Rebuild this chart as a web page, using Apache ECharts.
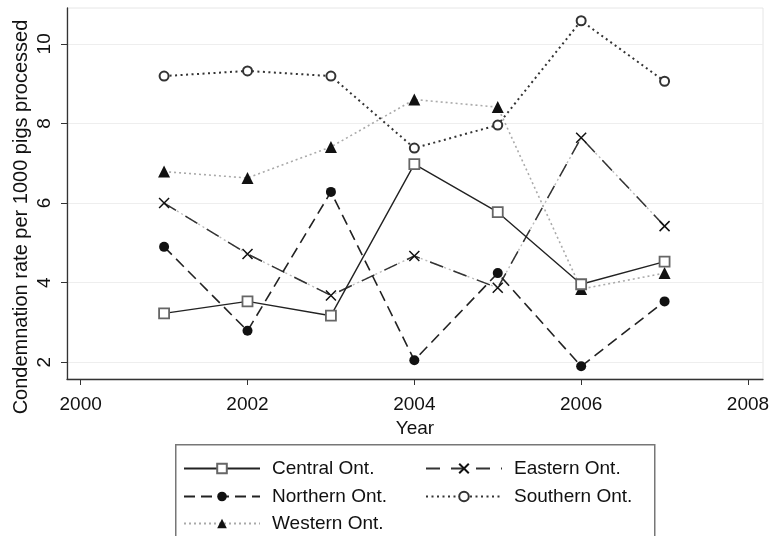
<!DOCTYPE html>
<html>
<head>
<meta charset="utf-8">
<script src="https://cdn.jsdelivr.net/npm/echarts@6/dist/echarts.min.js"></script>
<style>html,body{margin:0;padding:0;background:#fff}#c{width:772px;height:536px}</style>
</head>
<body>
<div id="c"></div>
<script>
const years = [2001, 2002, 2003, 2004, 2005, 2006, 2007];
const central  = [3.23, 3.53, 3.17, 6.98, 5.77, 3.96, 4.53];
const northern = [4.90, 2.79, 6.28, 2.05, 4.24, 1.90, 3.53];
const eastern  = [6.00, 4.72, 3.68, 4.67, 3.87, 7.64, 5.42];
const southern = [9.19, 9.32, 9.19, 7.38, 7.96, 10.58, 9.06];
const western  = [6.79, 6.63, 7.41, 8.60, 8.41, 3.84, 4.24];
const xTicks = [2000, 2002, 2004, 2006, 2008];
const yTicks = [2, 4, 6, 8, 10];
const yTitle = 'Condemnation rate per 1000 pigs processed';

const pts = arr => years.map((y, i) => [y, arr[i]]);
const FONT = 'Liberation Sans';
const FS = 19;
const xPath = 'path://M0,0L10,10M10,0L0,10';

const chart = echarts.init(document.getElementById('c'), null, {renderer: 'canvas'});
const legendBase = {
  orient: 'horizontal', itemWidth: 76, itemHeight: 12, itemGap: 10,
  textStyle: {fontFamily: FONT, fontSize: FS, color: '#111', padding: [0, 0, 0, 7]},
  selectedMode: false, padding: 0
};
chart.setOption({
  animation: false,
  backgroundColor: '#fff',
  textStyle: {fontFamily: FONT},
  grid: {left: 67, right: 9, top: 8, bottom: 157, show: true, borderColor: '#e6e6e6', borderWidth: 1, outerBoundsMode: 'none', containLabel: false},
  xAxis: {
    type: 'value', min: 1999.836, max: 2008.18,
    name: 'Year', nameLocation: 'middle', nameGap: 38,
    nameTextStyle: {fontFamily: FONT, fontSize: FS, color: '#111'},
    axisLine: {show: true, lineStyle: {color: '#333', width: 1.3}},
    axisTick: {show: true, length: 6, customValues: xTicks, lineStyle: {color: '#333'}},
    axisLabel: {customValues: xTicks, fontFamily: FONT, fontSize: FS, color: '#111', margin: 16, formatter: v => String(v)},
    splitLine: {show: false}
  },
  yAxis: {
    type: 'value', min: 1.58, max: 10.9, interval: 2,
    axisLine: {show: true, lineStyle: {color: '#333', width: 1.3}},
    axisTick: {show: true, length: 6, customValues: yTicks, lineStyle: {color: '#333'}},
    axisLabel: {customValues: yTicks, rotate: 90, fontFamily: FONT, fontSize: FS, color: '#111', margin: 13},
    splitLine: {show: true, lineStyle: {color: '#eeeeee', width: 1}}
  },
  legend: [
    Object.assign({}, legendBase, {data: ['Central Ont.'], left: 183, top: 459}),
    Object.assign({}, legendBase, {data: ['Northern Ont.'], left: 183, top: 487}),
    Object.assign({}, legendBase, {data: ['Western Ont.'], left: 183, top: 514}),
    Object.assign({}, legendBase, {data: ['Eastern Ont.'], left: 425, top: 459}),
    Object.assign({}, legendBase, {data: ['Southern Ont.'], left: 425, top: 487})
  ],
  graphic: [
    {
      type: 'rect', left: 175, top: 444, z: -1,
      shape: {width: 479, height: 100},
      style: {fill: '#fff', stroke: '#777', lineWidth: 1.5}
    },
    {
      type: 'text', x: 21, y: 217, rotation: Math.PI / 2,
      style: {text: yTitle, font: '20px "Liberation Sans"', fill: '#111', align: 'center', verticalAlign: 'middle'}
    }
  ],
  series: [
    {
      name: 'Central Ont.', type: 'line', data: pts(central), z: 5,
      symbol: 'rect', symbolSize: 10,
      itemStyle: {color: '#fff', borderColor: '#666', borderWidth: 1.8},
      lineStyle: {color: '#222', width: 1.4, type: 'solid'}
    },
    {
      name: 'Northern Ont.', type: 'line', data: pts(northern), z: 4,
      symbol: 'circle', symbolSize: 10,
      itemStyle: {color: '#111', borderColor: '#111', borderWidth: 0},
      lineStyle: {color: '#222', width: 1.6, type: [11, 6]}
    },
    {
      name: 'Eastern dots', type: 'line', data: pts(eastern), z: 2,
      symbol: 'none',
      lineStyle: {color: '#bbbbbb', width: 1.4, type: [2, 3]}
    },
    {
      name: 'Eastern Ont.', type: 'line', data: pts(eastern), z: 3,
      symbol: xPath, symbolSize: 10,
      itemStyle: {color: '#111', borderColor: '#111', borderWidth: 1.5},
      lineStyle: {color: '#333', width: 1.5, type: [14, 11]}
    },
    {
      name: 'Southern Ont.', type: 'line', data: pts(southern), z: 3,
      symbol: 'circle', symbolSize: 9,
      itemStyle: {color: '#fff', borderColor: '#333', borderWidth: 2},
      lineStyle: {color: '#333', width: 2, type: [2, 3.5]}
    },
    {
      name: 'Western Ont.', type: 'line', data: pts(western), z: 2,
      symbol: 'triangle', symbolSize: 12,
      itemStyle: {color: '#111', borderColor: '#111', borderWidth: 0},
      lineStyle: {color: '#aaaaaa', width: 1.6, type: [2, 3]}
    }
  ]
});
</script>
</body>
</html>
